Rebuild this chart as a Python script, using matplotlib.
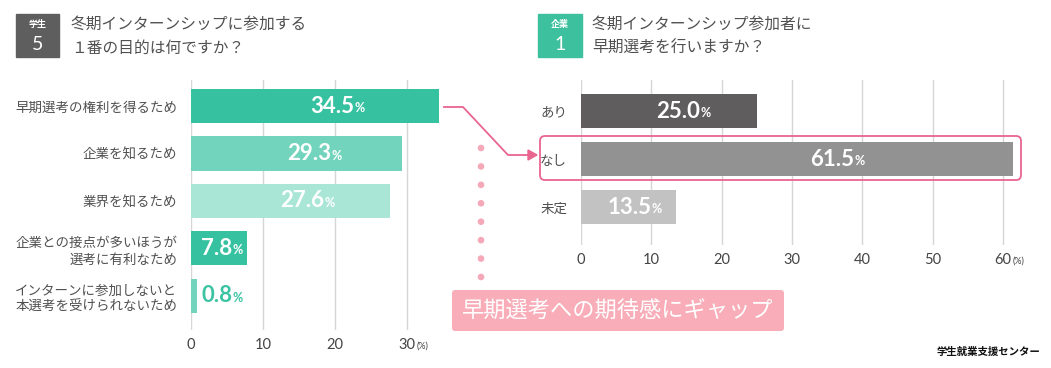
import numpy as np
import matplotlib
matplotlib.use("Agg")
import matplotlib.pyplot as plt
from matplotlib.patches import FancyBboxPatch, Rectangle, Polygon

plt.rcParams['font.family'] = ['Noto Sans CJK JP', 'DejaVu Sans']

# ===================== data =====================
student_labels = ["早期選考の権利を得るため", "企業を知るため", "業界を知るため",
                  "企業との接点が多いほうが\n選考に有利なため",
                  "インターンに参加しないと\n本選考を受けられないため"]
student_values = [34.5, 29.3, 27.6, 7.8, 0.8]
student_colors = ["#36c1a0", "#72d4bc", "#aae6d6", "#36c1a0", "#72d4bc"]
student_ticks = [0, 10, 20, 30]

company_labels = ["あり", "なし", "未定"]
company_values = [25.0, 61.5, 13.5]
company_colors = ["#5f5d5e", "#929292", "#c3c2c3"]
company_ticks = [0, 10, 20, 30, 40, 50, 60]

title_left = "冬期インターンシップに参加する\n１番の目的は何ですか？"
title_right = "冬期インターンシップ参加者に\n早期選考を行いますか？"
callout = "早期選考への期待感にギャップ"
logo = "学生就業支援センター"

W, H = 1051, 368
GRAY_TXT = "#505050"
PINK = "#e9658f"


def px_axes(fig, x0, y0, x1, y1):
    # pixel box (top-left origin) -> axes
    return fig.add_axes([x0 / W, 1 - y1 / H, (x1 - x0) / W, (y1 - y0) / H])


def bar_chart(ax, labels, values, colors, ticks, xmax, top_pad, bot_pad, out_thresh):
    n = len(values)
    y = np.arange(n)
    ax.barh(y, values, height=0.72, color=colors, zorder=2)
    ax.set_xlim(0, xmax)
    ax.set_ylim(n - 1 + bot_pad, -top_pad)
    ax.set_xticks(ticks)
    ax.set_xticklabels([str(t) for t in ticks], family="Lato", fontsize=10.5, color="#444444")
    ax.set_yticks(y)
    ax.set_yticklabels(labels, fontsize=9.7, color=GRAY_TXT, linespacing=1.25)
    ax.tick_params(length=0)
    ax.tick_params(axis="x", pad=6)
    ax.tick_params(axis="y", pad=10)
    ax.xaxis.grid(True, color="#d6d6d6", linewidth=1.0, zorder=0)
    for s in ax.spines.values():
        s.set_visible(False)
    ax.set_facecolor("none")

    for i, v in enumerate(values):
        if v < out_thresh:
            # small bar: label outside, in bar colour
            xy, off, col = (v, i), 36, "#3cc3a3"
        else:
            xy, off, col = (0.6 * v, i), (14 if v >= 10 else 8), "white"
        ax.annotate(f"{v:.1f}", xy=xy, xytext=(off, 0), textcoords="offset pixels",
                    ha="right", va="center", family="Lato", fontweight="bold",
                    fontsize=16, color=col, zorder=3)
        ax.annotate("%", xy=xy, xytext=(off, -2), textcoords="offset pixels",
                    ha="left", va="center", family="Lato", fontweight="bold",
                    fontsize=9, color=col, zorder=3)

    # unit label next to the last tick
    ax.annotate("(%)", xy=(ticks[-1], 0), xycoords=("data", "axes fraction"),
                xytext=(10, -16), textcoords="offset pixels", ha="left", va="center",
                family="Lato", fontsize=6.5, color="#444444")


fig = plt.figure(figsize=(W / 100, H / 100), dpi=100)

# ===================== left chart =====================
ax1 = px_axes(fig, 191, 80, 443, 330)
bar_chart(ax1, student_labels, student_values, student_colors, student_ticks,
          35, 0.55, 0.72, 3)

# ===================== right chart =====================
ax2 = px_axes(fig, 581, 80, 1024, 245)
bar_chart(ax2, company_labels, company_values, company_colors, company_ticks,
          63, 0.65, 0.79, 3)

# ===================== overlay (titles, callouts) =====================
ov = fig.add_axes([0, 0, 1, 1], zorder=5)
ov.set_xlim(0, W)
ov.set_ylim(H, 0)
ov.axis("off")
ov.set_facecolor("none")

# badges
ov.add_patch(Rectangle((16, 14), 43, 43, color="#5e5e5e"))
ov.text(37.5, 25, "学生", ha="center", va="center", fontsize=6.5, color="white", fontweight="bold")
ov.text(37.5, 44, "5", ha="center", va="center", fontsize=14, color="white", family="Lato")
ov.add_patch(Rectangle((538, 14), 44, 43, color="#3cc09d"))
ov.text(560, 25, "企業", ha="center", va="center", fontsize=6.5, color="white", fontweight="bold")
ov.text(560, 44, "1", ha="center", va="center", fontsize=14, color="white", family="Lato")

ov.text(71, 37, title_left, ha="left", va="center", fontsize=11.3, color=GRAY_TXT, linespacing=1.45)
ov.text(592, 37, title_right, ha="left", va="center", fontsize=11.3, color=GRAY_TXT, linespacing=1.45)

# highlight box around なし
ov.add_patch(FancyBboxPatch((540, 136), 481, 44, boxstyle="round,pad=0,rounding_size=5",
                            fill=False, edgecolor=PINK, linewidth=1.3))

# connector from left top bar to なし
ov.plot([444, 463, 508, 529], [107, 107, 155, 155], color=PINK, linewidth=1.3)
ov.add_patch(Polygon([[528, 150], [528, 160], [537, 155]], closed=True, color=PINK))

# dotted line down to the callout
for yy in np.linspace(148, 277, 8):
    ov.add_patch(plt.Circle((481, yy), 2.6, color="#f5a9b8"))

ov.add_patch(FancyBboxPatch((452, 290), 332, 41, boxstyle="round,pad=0,rounding_size=3",
                            color="#f8adb8", linewidth=0))
ov.text(618, 311, callout, ha="center", va="center", fontsize=16, color="white")

ov.text(1040, 352, logo, ha="right", va="center", fontsize=7.5, color="#111111",
        fontweight="bold", style="italic")

fig.savefig("out.png", dpi=100)
